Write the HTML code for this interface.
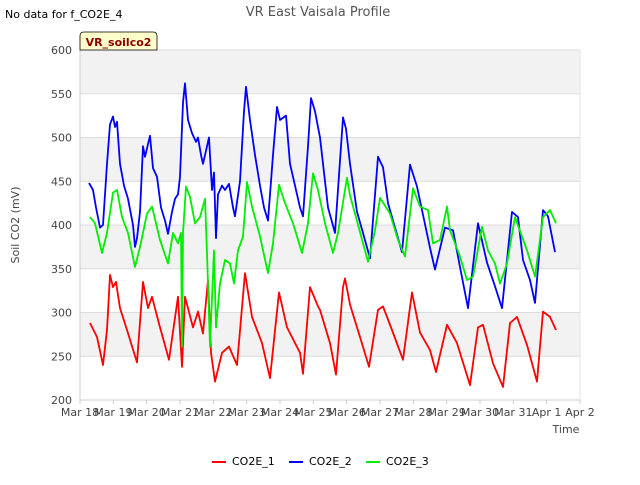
<!DOCTYPE html>
<html><head><meta charset="utf-8"><style>
body{margin:0;background:#fff;font-family:"Liberation Sans","DejaVu Sans",sans-serif}
svg text{font-family:"DejaVu Sans","Liberation Sans",sans-serif}
</style></head><body>
<svg id="c" width="640" height="480" xmlns="http://www.w3.org/2000/svg">
<text x="5" y="18" font-size="11" fill="#000">No data for f_CO2E_4</text>
<text x="318" y="16" font-size="13" fill="#555" text-anchor="middle">VR East Vaisala Profile</text>
<g id="plot"></g>
<text transform="translate(19,225) rotate(-90)" font-size="11" fill="#444" text-anchor="middle">Soil CO2 (mV)</text>
<text x="566" y="433" font-size="11" fill="#444" text-anchor="middle">Time</text>
<g><path d="M80,50 V36 Q80,32 84,32 H153 Q157,32 157,36 V50 Z" fill="#ffffcc" stroke="#000" stroke-width="0.8"/><text x="118.5" y="46" font-size="11" font-weight="bold" fill="#8b0000" text-anchor="middle">VR_soilco2</text></g>
<g id="legend"></g>
</svg>
<script>
const yTicks=[200,250,300,350,400,450,500,550,600];
const xTickLabels=["Mar 18","Mar 19","Mar 20","Mar 21","Mar 22","Mar 23","Mar 24","Mar 25","Mar 26","Mar 27","Mar 28","Mar 29","Mar 30","Mar 31","Apr 1","Apr 2"];
const seriesNames=["CO2E_1","CO2E_2","CO2E_3"];
const seriesColors=["#ff0000","#0000ff","#00ee00"];
const t1=[.3,.51,.69,.81,.9,.99,1.08,1.2,1.41,1.71,1.89,2.04,2.16,2.4,2.67,2.94,3.06,3.15,3.39,3.54,3.69,3.84,3.93,4.05,4.26,4.47,4.71,4.95,5.16,5.46,5.7,5.97,6.21,6.6,6.69,6.9,7.14,7.2,7.5,7.68,7.89,7.95,8.1,8.4,8.67,8.94,9.09,9.36,9.69,9.96,10.2,10.5,10.68,11.01,11.31,11.7,11.94,12.09,12.39,12.69,12.9,13.11,13.41,13.71,13.89,14.1,14.28];
const v1=[288,272,240,280,343,329,335,305,280,243,335,305,318,283,246,318,238,318,283,301,276,337,254,221,254,261,240,345,295,265,225,323,283,254,230,329,307,303,265,229,329,339,309,272,238,303,307,280,246,323,277,257,232,286,265,217,283,286,242,215,288,295,263,221,301,295,280];
const t2=[.27,.39,.48,.6,.69,.81,.9,.99,1.05,1.11,1.2,1.32,1.44,1.59,1.65,1.71,1.8,1.89,1.95,2.1,2.19,2.31,2.43,2.55,2.64,2.76,2.85,2.94,3.0,3.09,3.15,3.24,3.36,3.48,3.54,3.63,3.69,3.81,3.87,3.96,4.02,4.08,4.14,4.26,4.35,4.47,4.59,4.65,4.8,4.92,4.98,5.1,5.25,5.4,5.52,5.64,5.79,5.91,6.0,6.18,6.3,6.45,6.6,6.69,6.84,6.93,7.05,7.2,7.32,7.44,7.65,7.89,7.98,8.1,8.31,8.46,8.7,8.94,9.09,9.24,9.66,9.9,10.11,10.5,10.65,10.95,11.19,11.4,11.64,11.94,12.21,12.45,12.66,12.96,13.14,13.29,13.5,13.65,13.89,14.04,14.25];
const v2=[448,440,420,397,400,470,515,524,512,518,470,445,430,400,375,385,415,490,478,502,465,455,420,405,390,415,430,435,455,540,562,520,505,495,500,480,470,490,500,440,460,385,435,445,440,447,420,410,450,530,558,520,480,445,420,405,480,535,520,525,470,445,420,410,490,545,530,500,460,420,391,523,510,470,415,395,362,478,466,425,369,469,444,374,349,397,394,352,305,402,357,330,305,415,409,360,337,311,417,410,369];
const t3=[.3,.45,.66,.81,.99,1.11,1.26,1.44,1.65,1.8,2.01,2.16,2.4,2.64,2.79,2.94,3.03,3.06,3.09,3.18,3.3,3.45,3.6,3.75,3.81,3.9,4.02,4.08,4.2,4.35,4.5,4.62,4.74,4.89,5.01,5.16,5.4,5.64,5.79,5.97,6.15,6.39,6.66,6.84,6.99,7.14,7.35,7.59,7.74,8.01,8.1,8.4,8.64,8.85,9.0,9.3,9.54,9.75,9.99,10.2,10.44,10.59,10.8,11.01,11.1,11.4,11.61,11.79,12.06,12.24,12.45,12.6,12.81,13.05,13.41,13.65,13.89,14.1,14.28];
const v3=[409,402,368,391,437,440,409,391,352,375,413,421,383,356,391,379,391,261,391,444,432,402,409,430,368,261,371,283,333,360,356,333,371,387,449,421,387,345,379,446,425,402,368,402,459,440,402,368,391,454,434,392,358,394,431,413,383,364,442,421,417,379,383,421,394,364,337,341,398,371,356,333,356,409,371,341,409,417,402];
const times=[t1,t2,t3], values=[v1,v2,v3];
const NS="http://www.w3.org/2000/svg";
const L=80,R=580,T=50,B=400;
const xs=d=>L+(R-L)*d/15;
const ys=v=>B-(B-T)*(v-200)/400;
function mk(tag,attrs,parent){const e=document.createElementNS(NS,tag);for(const k in attrs)e.setAttribute(k,attrs[k]);parent.appendChild(e);return e;}
const plot=document.getElementById('plot');
for(let i=0;i<yTicks.length-1;i++){
  if(i%2===1){const r=mk('rect',{x:L,y:ys(yTicks[i+1]),width:R-L,height:ys(yTicks[i])-ys(yTicks[i+1]),fill:'#f2f2f2'},plot);
  
  }
}
yTicks.forEach(v=>{
  const g=mk('line',{x1:L,x2:R,y1:ys(v),y2:ys(v),stroke:'#dcdcdc','stroke-width':1},plot);
  
  
  const t=mk('text',{x:L-8,y:ys(v)+4,'font-size':11,fill:'#444','text-anchor':'end'},plot);t.textContent=v;
  
  
});
mk('line',{x1:L,x2:L,y1:T,y2:B,stroke:'#ccc'},plot);
mk('line',{x1:L,x2:R,y1:B,y2:B,stroke:'#ccc'},plot);
mk('line',{x1:R,x2:R,y1:T,y2:B,stroke:'#e4e4e4'},plot);
xTickLabels.forEach((lab,i)=>{
  mk('line',{x1:xs(i),x2:xs(i),y1:B,y2:B+4,stroke:'#ccc'},plot);
  const t=mk('text',{x:xs(i),y:B+16,'font-size':11,fill:'#444','text-anchor':'middle'},plot);t.textContent=lab;
  
  
});
times.forEach((tt,s)=>{
  const n=Math.min(tt.length,values[s].length);let d='';
  for(let i=0;i<n;i++)d+=(i?'L':'M')+xs(tt[i]).toFixed(1)+','+ys(values[s][i]).toFixed(1);
  const p=mk('path',{d:d,fill:'none',stroke:seriesColors[s],'stroke-width':1.8,'stroke-linejoin':'round'},plot);
  
  
});
const leg=document.getElementById('legend');
const lx=[212,289,366];
seriesNames.forEach((nm,i)=>{
  const g=mk('g',{},leg);
  
  
  mk('line',{x1:lx[i],x2:lx[i]+14,y1:462,y2:462,stroke:seriesColors[i],'stroke-width':2},g);
  const t=mk('text',{x:lx[i]+20,y:465,'font-size':11,fill:'#000'},g);t.textContent=nm;
});
</script>
</body></html>
